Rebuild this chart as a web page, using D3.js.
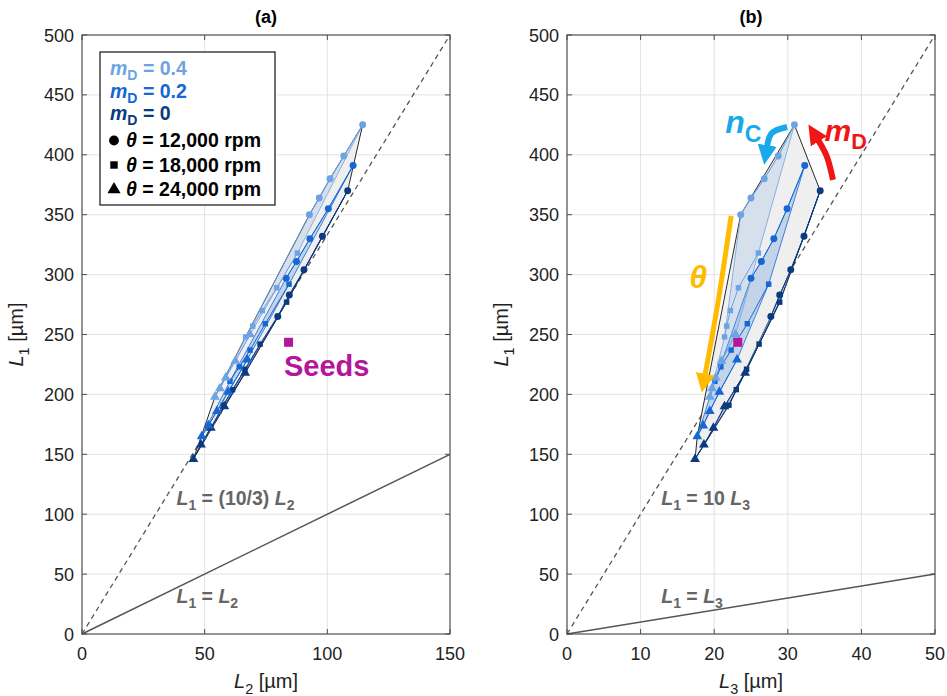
<!DOCTYPE html>
<html lang="en">
<head>
<meta charset="utf-8">
<title>L1 vs L2 and L3</title>
<script src="https://cdn.jsdelivr.net/npm/d3@7"></script>
<style>
    body { margin: 0; background: #fff; }
    svg text { font-family: Arial, "Liberation Sans", Helvetica, sans-serif; }
</style>
</head>
<body>
<div id="chart"></div>
<script>
    // series: mD = 0.4, 0.2, 0 ; theta = 12k, 18k, 24k rpm ; 5 nC steps each
    const mDLabels = ["0.4", "0.2", "0"];
    const thetaLabels = ["12,000", "18,000", "24,000"];
    const seriesColors = ["#6ea3e3", "#1467d4", "#0b3a80"];

    // L1 [µm], indexed [mD][theta][nC]
    const L1 = [
        [[425, 399, 380, 364, 350], [318, 289, 270, 257, 248], [250, 228, 214, 205, 198]],
        [[391, 355, 330, 311, 297], [292, 259, 237, 223, 211], [229, 202, 186, 174, 165]],
        [[370, 332, 304, 283, 265], [277, 242, 221, 204, 191], [218, 190, 172, 158, 146]]
    ];
    // L2 [µm]
    const L2 = [
        [[114.4, 106.7, 101.1, 96.7, 92.7], [87.8, 79.4, 73.5, 69.6, 66.7], [68.5, 62.5, 58.6, 56.2, 54.2]],
        [[110.5, 100.4, 92.9, 87.4, 83.2], [84.4, 74.7, 68.5, 64.1, 60.3], [67.4, 59.6, 55.0, 51.5, 48.8]],
        [[108.3, 98.0, 90.5, 84.5, 79.8], [83.4, 72.6, 66.4, 61.4, 57.6], [66.5, 58.0, 52.5, 48.5, 45.4]]
    ];
    // L3 [µm]
    const L3 = [
        [[30.9, 28.7, 26.8, 25.0, 23.6], [26.0, 23.3, 22.2, 21.7, 21.4], [22.9, 21.0, 20.2, 19.7, 19.4]],
        [[32.3, 29.9, 28.1, 26.4, 25.0], [27.4, 24.5, 22.3, 20.9, 20.1], [23.1, 20.7, 19.4, 18.5, 17.7]],
        [[34.4, 32.2, 30.4, 28.9, 27.7], [28.9, 26.1, 24.4, 23.0, 22.0], [24.2, 21.4, 19.9, 18.6, 17.4]]
    ];

    // seed geometry
    const seedL1 = 243.5, seedL2 = 84.2, seedL3 = 23.2;

    const yTicks = [0, 50, 100, 150, 200, 250, 300, 350, 400, 450, 500];
    const xTicksA = [0, 50, 100, 150];
    const xTicksB = [0, 10, 20, 30, 40, 50];

    const svg = d3.select("#chart").append("svg")
        .attr("width", 947)
        .attr("height", 696);

    const y = d3.scaleLinear().domain([0, 500]).range([634, 35]);
    const symbols = [d3.symbolCircle, d3.symbolSquare, d3.symbolTriangle];
    const symSize = [38, 30, 42];
    const axisColor = "#4d4d4d";
    const eqColor = "#666666";

    // writes text made of parts, some italic or subscript
    function rich(sel, parts, size) {
        let down = false;
        parts.forEach(p => {
            const ts = sel.append("tspan").text(p.t);
            if (p.i) ts.style("font-style", "italic");
            if (p.sub) {
                ts.style("font-size", (size * 0.72) + "px");
                if (!down) { ts.attr("dy", size * 0.28); down = true; }
            } else if (down) {
                ts.attr("dy", -size * 0.28);
                down = false;
            }
        });
        return sel;
    }

    function drawPanel(opt) {
        const x = d3.scaleLinear().domain([0, opt.xMax]).range([opt.left, opt.right]);
        const g = svg.append("g");

        // grid
        g.append("g").selectAll("line").data(opt.xTicks.slice(1, -1)).enter().append("line")
            .attr("x1", d => x(d)).attr("x2", d => x(d))
            .attr("y1", y(0)).attr("y2", y(500))
            .attr("stroke", "#e3e3e3");
        g.append("g").selectAll("line").data(yTicks.slice(1, -1)).enter().append("line")
            .attr("x1", x(0)).attr("x2", x(opt.xMax))
            .attr("y1", d => y(d)).attr("y2", d => y(d))
            .attr("stroke", "#e3e3e3");

        // reference lines
        g.append("line")
            .attr("x1", x(0)).attr("y1", y(0))
            .attr("x2", x(opt.xMax)).attr("y2", y(opt.xMax * opt.slope))
            .attr("stroke", "#555").attr("stroke-width", 1.3).attr("stroke-dasharray", "5,4");
        g.append("line")
            .attr("x1", x(0)).attr("y1", y(0))
            .attr("x2", x(opt.xMax)).attr("y2", y(opt.xMax))
            .attr("stroke", "#555").attr("stroke-width", 1.5);

        const pt = (m, t, n) => [x(opt.xs[m][t][n]), y(L1[m][t][n])];

        // overall envelope
        const all = [];
        for (let m = 0; m < 3; m++)
            for (let t = 0; t < 3; t++)
                for (let n = 0; n < 5; n++) all.push(pt(m, t, n));
        const hull = d3.polygonHull(all);
        g.append("path")
            .attr("d", "M" + hull.join("L") + "Z")
            .attr("fill", "#efefef")
            .attr("stroke", "#111")
            .attr("stroke-width", 0.9);

        // surface for each mD
        [2, 1, 0].forEach(m => {
            const c = [0, 1, 2, 3, 4].map(n => pt(m, 0, n));
            const t = [4, 3, 2, 1, 0].map(n => pt(m, 2, n));
            const poly = c.concat([pt(m, 1, 4)], t, [pt(m, 1, 0)]);
            g.append("path")
                .attr("d", "M" + poly.join("L") + "Z")
                .attr("fill", seriesColors[m])
                .attr("fill-opacity", m === 2 ? 0.24 : 0.2)
                .attr("stroke", seriesColors[m])
                .attr("stroke-width", 0.8);
        });

        // nC lines and markers
        [2, 1, 0].forEach(m => {
            for (let t = 0; t < 3; t++) {
                const pts = [0, 1, 2, 3, 4].map(n => pt(m, t, n));
                g.append("path")
                    .attr("d", d3.line()(pts))
                    .attr("fill", "none")
                    .attr("stroke", seriesColors[m])
                    .attr("stroke-width", 1);
                g.append("g").selectAll("path").data(pts).enter().append("path")
                    .attr("transform", d => "translate(" + d[0] + "," + d[1] + ")")
                    .attr("d", d3.symbol().type(symbols[t]).size(symSize[t]))
                    .attr("fill", seriesColors[m]);
            }
        });

        // seed
        g.append("rect")
            .attr("x", x(opt.seed) - 4.5).attr("y", y(seedL1) - 4.5)
            .attr("width", 9).attr("height", 9)
            .attr("fill", "#b3169d");

        // equation labels
        rich(g.append("text").attr("x", x(opt.eqX)).attr("y", y(108))
            .attr("fill", eqColor).style("font-size", "19.5px").style("font-weight", "bold"),
            opt.eqTop, 19.5);
        rich(g.append("text").attr("x", x(opt.eqX)).attr("y", y(26))
            .attr("fill", eqColor).style("font-size", "19.5px").style("font-weight", "bold"),
            opt.eqBottom, 19.5);

        // box with inward ticks
        g.append("rect")
            .attr("x", x(0)).attr("y", y(500))
            .attr("width", x(opt.xMax) - x(0)).attr("height", y(0) - y(500))
            .attr("fill", "none").attr("stroke", axisColor).attr("stroke-width", 1.2);
        const tl = 5;
        opt.xTicks.forEach(d => {
            g.append("line").attr("x1", x(d)).attr("x2", x(d)).attr("y1", y(0)).attr("y2", y(0) - tl)
                .attr("stroke", axisColor);
            g.append("line").attr("x1", x(d)).attr("x2", x(d)).attr("y1", y(500)).attr("y2", y(500) + tl)
                .attr("stroke", axisColor);
            g.append("text").attr("x", x(d)).attr("y", 660)
                .attr("text-anchor", "middle").style("font-size", "18px").attr("fill", "#222")
                .text(d);
        });
        yTicks.forEach(d => {
            g.append("line").attr("x1", x(0)).attr("x2", x(0) + tl).attr("y1", y(d)).attr("y2", y(d))
                .attr("stroke", axisColor);
            g.append("line").attr("x1", x(opt.xMax)).attr("x2", x(opt.xMax) - tl).attr("y1", y(d)).attr("y2", y(d))
                .attr("stroke", axisColor);
            g.append("text").attr("x", x(0) - 8).attr("y", y(d) + 6.5)
                .attr("text-anchor", "end").style("font-size", "18px").attr("fill", "#222")
                .text(d);
        });

        // titles and axis labels
        g.append("text").attr("x", (opt.left + opt.right) / 2).attr("y", 23)
            .attr("text-anchor", "middle").style("font-size", "18px").style("font-weight", "bold")
            .text(opt.title);
        rich(g.append("text").attr("x", (opt.left + opt.right) / 2).attr("y", 688)
            .attr("text-anchor", "middle").style("font-size", "20px").attr("fill", "#222"),
            [{t: "L", i: true}, {t: opt.sub, sub: true}, {t: " [µm]"}], 20);
        rich(g.append("text")
            .attr("transform", "translate(" + (opt.left - 59) + "," + y(250) + ") rotate(-90)")
            .attr("text-anchor", "middle").style("font-size", "20px").attr("fill", "#222"),
            [{t: "L", i: true}, {t: "1", sub: true}, {t: " [µm]"}], 20);

        return {g: g, x: x};
    }

    // panel (a)
    const pa = drawPanel({
        title: "(a)", left: 82, right: 450, xMax: 150, xTicks: xTicksA, xs: L2,
        seed: seedL2, sub: "2", slope: 10 / 3, eqX: 38.5,
        eqTop: [{t: "L", i: true}, {t: "1", sub: true}, {t: " = (10/3) "}, {t: "L", i: true}, {t: "2", sub: true}],
        eqBottom: [{t: "L", i: true}, {t: "1", sub: true}, {t: " = "}, {t: "L", i: true}, {t: "2", sub: true}]
    });

    pa.g.append("text")
        .attr("x", pa.x(82.3)).attr("y", y(215))
        .style("font-size", "29px").style("font-weight", "bold")
        .attr("fill", "#b3169d")
        .text("Seeds");

    // legend
    const leg = pa.g.append("g");
    leg.append("rect")
        .attr("x", 100).attr("y", 52).attr("width", 175).attr("height", 153)
        .attr("fill", "#fff").attr("stroke", "#111").attr("stroke-width", 1.2);
    mDLabels.forEach((lab, i) => {
        rich(leg.append("text").attr("x", 110).attr("y", 75 + i * 22.5)
            .attr("fill", seriesColors[i]).style("font-size", "19.5px").style("font-weight", "bold"),
            [{t: "m", i: true}, {t: "D", sub: true}, {t: " = " + lab}], 19.5);
    });
    thetaLabels.forEach((lab, i) => {
        const yy = 147 + i * 24.5;
        leg.append("path")
            .attr("transform", "translate(114," + (yy - 6.5) + ")")
            .attr("d", d3.symbol().type(symbols[i]).size([75, 55, 75][i]))
            .attr("fill", "#000");
        rich(leg.append("text").attr("x", 126).attr("y", yy)
            .style("font-size", "19.5px").style("font-weight", "bold"),
            [{t: "θ", i: true}, {t: " = " + lab + " rpm"}], 19.5);
    });

    // panel (b)
    const pb = drawPanel({
        title: "(b)", left: 567, right: 935, xMax: 50, xTicks: xTicksB, xs: L3,
        seed: seedL3, sub: "3", slope: 10, eqX: 12.8,
        eqTop: [{t: "L", i: true}, {t: "1", sub: true}, {t: " = 10 "}, {t: "L", i: true}, {t: "3", sub: true}],
        eqBottom: [{t: "L", i: true}, {t: "1", sub: true}, {t: " = "}, {t: "L", i: true}, {t: "3", sub: true}]
    });

    // annotation arrows in panel (b), given in data units
    const arrows = [
        {color: "#19a9ea", w: 6, len: 3.3, half: 1.6, pts: [[29.9, 423.2], [27.85, 418.2], [27.17, 406.5]]},
        {color: "#f01616", w: 6, len: 3.3, half: 1.6, pts: [[36.14, 379], [35.33, 398.2], [34.1, 412.5]]},
        {color: "#ffbb00", w: 5, len: 3.8, half: 1.9, pts: [[22.3, 349], [20.6, 280], [18.75, 216]]}
    ];
    const defs = svg.append("defs");
    arrows.forEach((a, i) => {
        defs.append("marker")
            .attr("id", "head" + i)
            .attr("viewBox", [0, -a.half - 0.1, a.len + 0.2, a.half * 2 + 0.2].join(" "))
            .attr("refX", 0.3).attr("refY", 0)
            .attr("markerWidth", a.len + 0.2).attr("markerHeight", a.half * 2 + 0.2)
            .attr("orient", "auto")
            .append("path")
            .attr("d", "M0," + (-a.half) + "L" + a.len + ",0L0," + a.half + "Z")
            .attr("fill", a.color);
        pb.g.append("path")
            .attr("d", d3.line().x(d => pb.x(d[0])).y(d => y(d[1])).curve(d3.curveNatural)(a.pts))
            .attr("fill", "none")
            .attr("stroke", a.color)
            .attr("stroke-width", a.w)
            .attr("marker-end", "url(#head" + i + ")");
    });

    rich(pb.g.append("text").attr("x", pb.x(21.5)).attr("y", y(418))
        .attr("fill", "#19a9ea").style("font-size", "32px").style("font-weight", "bold"),
        [{t: "n", i: true}, {t: "C", sub: true}], 32);
    rich(pb.g.append("text").attr("x", pb.x(35.0)).attr("y", y(411.5))
        .attr("fill", "#f01616").style("font-size", "30px").style("font-weight", "bold"),
        [{t: "m", i: true}, {t: "D", sub: true}], 30);
    pb.g.append("text").attr("x", pb.x(16.6)).attr("y", y(289))
        .attr("fill", "#ffbb00").style("font-size", "32px").style("font-weight", "bold")
        .style("font-style", "italic")
        .text("θ");
</script>
</body>
</html>
